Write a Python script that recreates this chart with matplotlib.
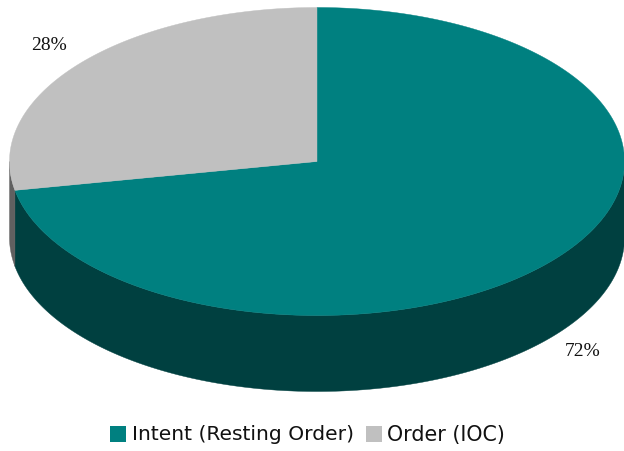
import numpy as np
import matplotlib
matplotlib.use("Agg")
import matplotlib.pyplot as plt
from matplotlib.patches import Polygon, Rectangle

labels = ["Intent (Resting Order)", "Order (IOC)"]
values = [72, 28]
colors = ["#008080", "#C0C0C0"]
side_colors = ["#004040", "#606060"]
pct_labels = ["72%", "28%"]

W, H = 624, 451
fig = plt.figure(figsize=(W/100, H/100), dpi=100)
ax = fig.add_axes([0, 0, 1, 1])
ax.set_xlim(0, W); ax.set_ylim(H, 0); ax.axis("off")

cx, cy, rx, ry, depth = 317, 161.5, 307.5, 154, 76

def pt(theta):
    return cx + rx*np.sin(theta), cy - ry*np.cos(theta)

fracs = np.array(values, float)/sum(values)
edges = np.concatenate([[0], np.cumsum(fracs)])*2*np.pi

for i in range(len(values)):
    lo, hi = max(edges[i], np.pi/2), min(edges[i+1], 3*np.pi/2)
    if hi <= lo:
        continue
    x, y = pt(np.linspace(lo, hi, 200))
    xy = np.r_[np.c_[x, y], np.c_[x, y + depth][::-1]]
    ax.add_patch(Polygon(xy, closed=True, fc=side_colors[i], ec=side_colors[i], lw=0.3))

for i in range(len(values)):
    x, y = pt(np.linspace(edges[i], edges[i+1], 400))
    xy = np.r_[[[cx, cy]], np.c_[x, y]]
    ax.add_patch(Polygon(xy, closed=True, fc=colors[i], ec=colors[i], lw=0.3))

font = "Liberation Serif"
ax.text(583, 352, pct_labels[0], ha="center", va="center", fontsize=14, family=font, color="#111111")
ax.text(49, 45, pct_labels[1], ha="center", va="center", fontsize=14, family=font, color="#111111")

ax.add_patch(Rectangle((110, 426), 16, 16, fc=colors[0], ec="none"))
ax.text(132, 434.5, labels[0], va="center", ha="left", fontsize=14.6, family="DejaVu Sans", color="#111111")
ax.add_patch(Rectangle((366, 426), 16, 16, fc=colors[1], ec="none"))
ax.text(387, 434.5, labels[1], va="center", ha="left", fontsize=14.9, family="DejaVu Sans", color="#111111")

fig.savefig("out.png", dpi=100)
